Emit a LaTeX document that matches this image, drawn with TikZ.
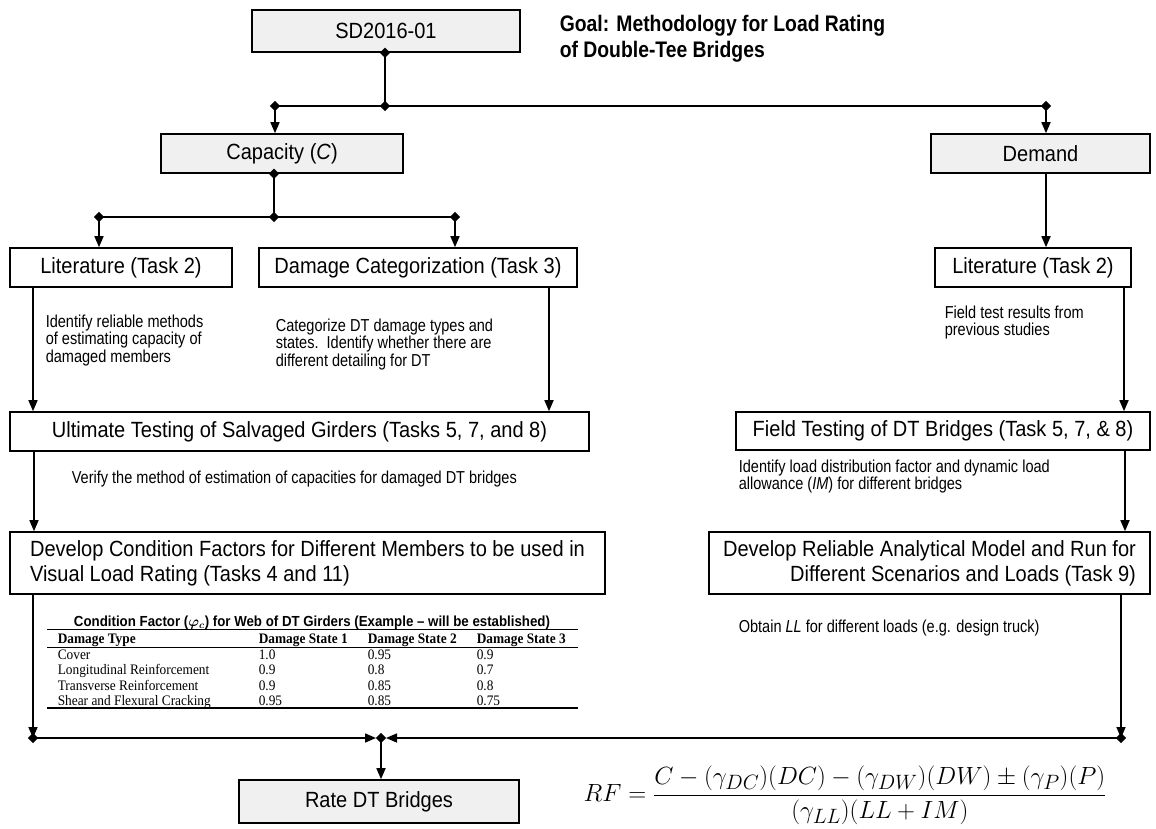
\documentclass[tikz,border=0pt]{standalone}
\usepackage{fontspec}
\usepackage{graphicx}
\setmainfont{Liberation Sans}[FakeStretch=0.91]
\newfontfamily\annfont{Liberation Sans}[FakeStretch=0.84]
\newfontfamily\goalfont{Liberation Sans}[FakeStretch=0.86]
\newfontfamily\tabserif{Liberation Serif}[FakeStretch=0.92]
\usetikzlibrary{arrows.meta,shapes.geometric}
\definecolor{boxgray}{RGB}{240,240,240}
\newcommand\boxfs{\fontsize{22}{25}\selectfont}
\newcommand\annfs{\annfont\fontsize{17.3}{17.5}\selectfont}
\newcommand\tabfs{\tabserif\fontsize{14.5}{15.5}\selectfont}
\begin{document}
\begin{tikzpicture}[x=1pt,y=-1pt,line width=1.6pt,
  >={Triangle[length=11pt,width=9pt]},
  box/.style={draw=black,line width=1.6pt,inner sep=0pt,font=\boxfs,align=center},
  gbox/.style={box,fill=boxgray},
  dmd/.style={diamond,aspect=1,fill=black,draw=none,inner sep=0pt,minimum size=11pt},
  ann/.style={anchor=north west,inner sep=0pt,align=left,font=\annfs},
  cell/.style={anchor=base west,inner sep=0pt,font=\tabfs},
  hcell/.style={cell,font=\tabfs\bfseries}]
\useasboundingbox (0,0) rectangle (1156,829);

% boxes
\node[gbox,minimum width=268pt,minimum height=42pt] (sd) at (386,31) {SD2016-01};
\node[anchor=north west,inner sep=0pt,align=left,font=\goalfont\fontsize{22.5}{26.5}\selectfont\bfseries] (goal) at (559,14) {Goal: Methodology for Load Rating\\of Double-Tee Bridges};
\node[gbox,minimum width=242pt,minimum height=39pt] (cap) at (282,153.5) {Capacity (\textit{C})};
\node[gbox,minimum width=219pt,minimum height=39pt] (dem) at (1040.5,153.5) {Demand};
\node[box,minimum width=222pt,minimum height=39pt] (lit1) at (121,267.5) {Literature (Task 2)};
\node[box,minimum width=318pt,minimum height=39pt] (dmg) at (418,267.5) {Damage Categorization (Task 3)};
\node[box,minimum width=196pt,minimum height=39pt] (lit2) at (1033,267.5) {Literature (Task 2)};
\node[box,minimum width=579pt,minimum height=39pt] (ult) at (299.5,431.5) {Ultimate Testing of Salvaged Girders (Tasks 5, 7, and 8)};
\node[box,minimum width=414pt,minimum height=38pt] (fld) at (943,431) {Field Testing of DT Bridges (Task 5, 7, \& 8)};
\node[box,minimum width=595pt,minimum height=62pt,align=left] (dev1) at (307.5,563) {Develop Condition Factors for Different Members to be used in\\Visual Load Rating (Tasks 4 and 11)};
\node[box,minimum width=441pt,minimum height=62pt,align=right] (dev2) at (929.5,563) {Develop Reliable Analytical Model and Run for\\Different Scenarios and Loads (Task 9)};
\node[gbox,minimum width=280pt,minimum height=43pt] (rate) at (379,801.5) {Rate DT Bridges};

% annotations
\node[ann] (a1) at (45,314) {Identify reliable methods\\of estimating capacity of\\damaged members};
\node[ann] (a2) at (275,318) {Categorize DT damage types and\\states.\ \ Identify whether there are\\different detailing for DT};
\node[ann] (a3) at (944,305) {Field test results from\\previous studies};
\node[ann] (a4) at (71,470) {Verify the method of estimation of capacities for damaged DT bridges};
\node[ann] (a5) at (738,459) {Identify load distribution factor and dynamic load\\allowance (\textit{IM}) for different bridges};
\node[ann] (a6) at (738,619) {Obtain \textit{LL} for different loads (e.g. design truck)};

% junction coordinates
\coordinate (j1) at (385,106);
\coordinate (j2) at (275,106);
\coordinate (j3) at (1046,106);
\coordinate (k1) at (274,217);
\coordinate (k2) at (99,217);
\coordinate (k3) at (455,217);
\coordinate (m1) at (33,738);
\coordinate (m2) at (381,738);
\coordinate (m3) at (1121,738);

% top connectors
\draw (j1 |- sd.south) -- (j1);
\draw (j2) -- (j3);
\draw[->] (j2) -- (j2 |- cap.north);
\draw[->] (j3) -- (j3 |- dem.north);
\node[dmd] (d0) at (j1 |- sd.south) {};
\node[dmd] (d1) at (j1) {};
\node[dmd] (d2) at (j2) {};
\node[dmd] (d3) at (j3) {};

% capacity branch
\draw (k1 |- cap.south) -- (k1);
\draw (k2) -- (k3);
\draw[->] (k2) -- (k2 |- lit1.north);
\draw[->] (k3) -- (k3 |- dmg.north);
\node[dmd] (d4) at (k1 |- cap.south) {};
\node[dmd] (d5) at (k1) {};
\node[dmd] (d6) at (k2) {};
\node[dmd] (d7) at (k3) {};

% vertical flows
\draw[->] (j3 |- dem.south) -- (j3 |- lit2.north);
\draw[->] (33,0 |- lit1.south) -- (33,0 |- ult.north);
\draw[->] (549,0 |- dmg.south) -- (549,0 |- ult.north);
\draw[->] (1124,0 |- lit2.south) -- (1124,0 |- fld.north);
\draw[->] (34,0 |- ult.south) -- (34,0 |- dev1.north);
\draw[->] (1125,0 |- fld.south) -- (1125,0 |- dev2.north);

% bottom collector
\draw[->] (m1 |- dev1.south) -- (m1);
\draw[->] (m3 |- dev2.south) -- (m3);
\draw[->] (m1) -- ([xshift=-5pt]m2);
\draw[->] (m3) -- ([xshift=5pt]m2);
\draw[->] (m2) -- (m2 |- rate.north);
\node[dmd] (d8) at (m1) {};
\node[dmd] (d9) at (m2) {};
\node[dmd] (d10) at (m3) {};

% table
\node[anchor=base,inner sep=0pt,font=\fontsize{14.6}{16}\selectfont\bfseries] (ttl) at (312,626) {Condition Factor ({\boldmath$\varphi_c$}) for Web of DT Girders (Example – will be established)};
\draw[line width=1.3pt] (47,629.5) -- (578,629.5);
\draw[line width=0.9pt] (47,647) -- (578,647);
\draw[line width=1.3pt] (47,708) -- (578,708);
\node[hcell] (h1) at (57,643) {Damage Type};
\node[hcell] (h2) at (258,643) {Damage State 1};
\node[hcell] (h3) at (367,643) {Damage State 2};
\node[hcell] (h4) at (476,643) {Damage State 3};
\node[cell] (r11) at (57,659) {Cover};
\node[cell] (r12) at (258,659) {1.0};
\node[cell] (r13) at (367,659) {0.95};
\node[cell] (r14) at (476,659) {0.9};
\node[cell] (r21) at (57,674) {Longitudinal Reinforcement};
\node[cell] (r22) at (258,674) {0.9};
\node[cell] (r23) at (367,674) {0.8};
\node[cell] (r24) at (476,674) {0.7};
\node[cell] (r31) at (57,690) {Transverse Reinforcement};
\node[cell] (r32) at (258,690) {0.9};
\node[cell] (r33) at (367,690) {0.85};
\node[cell] (r34) at (476,690) {0.8};
\node[cell] (r41) at (57,705) {Shear and Flexural Cracking};
\node[cell] (r42) at (258,705) {0.95};
\node[cell] (r43) at (367,705) {0.85};
\node[cell] (r44) at (476,705) {0.75};

% formula
\node[inner sep=0pt,font=\fontsize{28}{31}\selectfont] (rf) at (845,795) {$\displaystyle RF=\frac{C-(\gamma_{DC})(DC)-(\gamma_{DW})(DW)\pm(\gamma_{P})(P)}{(\gamma_{LL})(LL+IM)}$};
\end{tikzpicture}
\end{document}
